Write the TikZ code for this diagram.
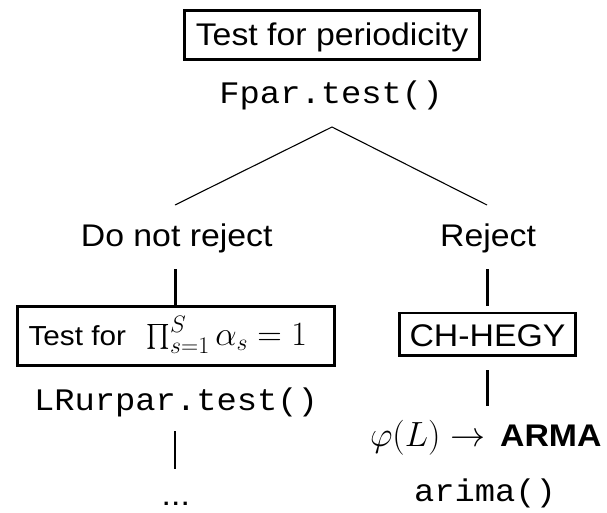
\documentclass[tikz,border=0pt]{standalone}
\usepackage{fix-cm}
\usepackage{amsmath}
\usepackage[no-math]{fontspec}
\usepackage{graphicx}
\newfontfamily\sansf{Liberation Sans}
\newfontfamily\monof{Liberation Mono}
\newcommand\bigsz{\fontsize{31.3}{37}\selectfont}
\newcommand\midsz{\fontsize{27.5}{33}\selectfont}
\newcommand\mathsz[1]{\fontsize{#1}{#1}\selectfont}
% text in this chart is set slightly wide
\newcommand\hs[1]{\scalebox{1.08}[1]{#1}}
\tikzset{
  txt/.style={inner sep=0pt, anchor=base},
  boxed/.style={draw, line width=2.6pt, inner sep=0pt},
  branch/.style={line width=1.1pt},
  stem/.style={line width=2.6pt},
}
\begin{document}
\begin{tikzpicture}[x=1pt, y=-1pt]
\useasboundingbox (0,0) rectangle (607,512);

% first test
\node[boxed, minimum width=294.5pt, minimum height=49.5pt,
      text height=24pt, text depth=4pt] (period) at (332,35)
      {\hs{\sansf\bigsz Test for periodicity}};
\node[txt] (fpar) at (331,103) {\hs{\monof\bigsz Fpar.test()}};

% branching
\coordinate (apex) at (332,127);
\coordinate (lfork) at (175,205);
\coordinate (rfork) at (487,205);
\draw[branch] (lfork) -- (apex) -- (rfork);

\node[txt] (keep) at (176.7,246.7) {\hs{\sansf\bigsz Do not reject}};
\node[txt] (rej) at (488,246) {\hs{\sansf\bigsz Reject}};

% left branch: box holding a text and a formula
\node[boxed, minimum width=317.2pt, minimum height=58.8pt] (unitroot) at (176.1,335.9) {};
\node[txt, anchor=base west] (utext) at (28.4,345) {\hs{\sansf\midsz Test for}};
\node[txt, anchor=base west] (umath) at (146.5,345)
      {\mathsz{34}$\prod_{s=1}^{S}\alpha_s = 1$};
\coordinate (keepfoot) at (175.5,269);
\draw[stem] (keepfoot) -- (keepfoot |- unitroot.north);

\node[txt] (lrur) at (176,410) {\hs{\monof\bigsz LRurpar.test()}};
\coordinate (lrtop) at (175,431);
\coordinate (lrbot) at (175,469);
\draw[stem] (lrtop) -- (lrbot);
\node[txt] (more) at (175.8,505.5) {\hs{\sansf\bigsz ...}};

% right branch
\node[boxed, minimum width=176pt, minimum height=42.5pt,
      text height=24.8pt, text depth=0pt] (hegy) at (487.5,334.3)
      {\hs{\sansf\bigsz CH-HEGY}};
\coordinate (rejfoot) at (487.3,269);
\coordinate (rejstop) at (487.3,306);
\draw[stem] (rejfoot) -- (rejstop);
\coordinate (hegyfoot) at (487.5,370);
\coordinate (armatop) at (487.5,406);
\draw[stem] (hegyfoot) -- (armatop);

\node[txt, anchor=base west] (phi) at (369.8,446.7) {\mathsz{35}$\varphi(L)\rightarrow$};
\node[txt, anchor=base east] (arma) at (601.7,446.7) {\hs{\sansf\bfseries\bigsz ARMA}};
\node[txt] (arima) at (485,501.7) {\hs{\monof\bigsz arima()}};
\end{tikzpicture}
\end{document}
